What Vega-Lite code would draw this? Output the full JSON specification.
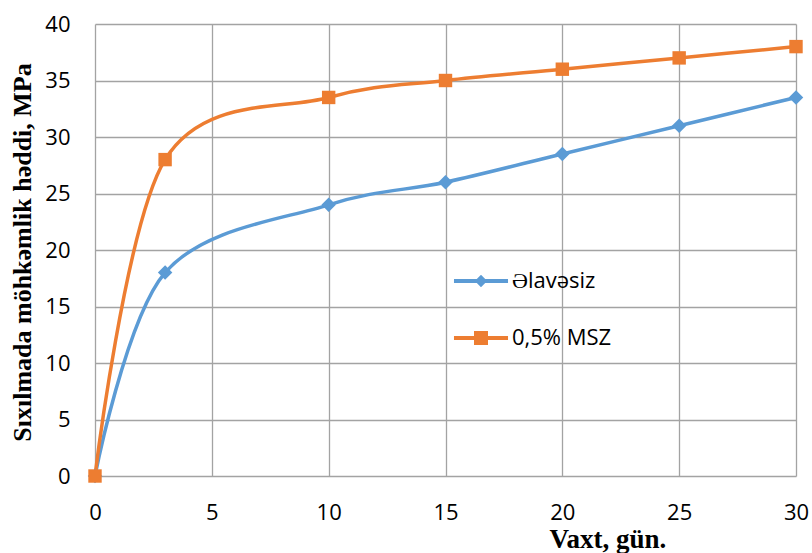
{
  "$schema": "https://vega.github.io/schema/vega-lite/v6.json",
  "autosize": {"type": "none"},
  "width": 701,
  "height": 452,
  "padding": {"left": 95, "top": 24, "right": 16, "bottom": 77},
  "background": "white",
  "config": {
    "view": {"stroke": null},
    "axis": {
      "grid": true,
      "gridColor": "#A3A3A3",
      "gridWidth": 1.3,
      "domain": false,
      "ticks": false,
      "labelFont": "Open Sans",
      "labelFontSize": 22,
      "labelColor": "#000000",
      "labelFlush": false,
      "labelOverlap": false,
      "titleFont": "Liberation Serif",
      "titleFontWeight": "bold",
      "titleFontSize": 26,
      "titleColor": "#000000"
    }
  },
  "data": {
    "values": [
      {"t": 0, "v": 0, "s": "Əlavəsiz"},
      {"t": 3, "v": 18, "s": "Əlavəsiz"},
      {"t": 10, "v": 24, "s": "Əlavəsiz"},
      {"t": 15, "v": 26, "s": "Əlavəsiz"},
      {"t": 20, "v": 28.5, "s": "Əlavəsiz"},
      {"t": 25, "v": 31, "s": "Əlavəsiz"},
      {"t": 30, "v": 33.5, "s": "Əlavəsiz"},
      {"t": 0, "v": 0, "s": "0,5% MSZ"},
      {"t": 3, "v": 28, "s": "0,5% MSZ"},
      {"t": 10, "v": 33.5, "s": "0,5% MSZ"},
      {"t": 15, "v": 35, "s": "0,5% MSZ"},
      {"t": 20, "v": 36, "s": "0,5% MSZ"},
      {"t": 25, "v": 37, "s": "0,5% MSZ"},
      {"t": 30, "v": 38, "s": "0,5% MSZ"}
    ]
  },
  "encoding": {
    "x": {
      "field": "t",
      "type": "quantitative",
      "scale": {"domain": [0, 30], "nice": false},
      "axis": {
        "values": [0, 5, 10, 15, 20, 25, 30],
        "labelPadding": 26,
        "title": "Vaxt, gün.",
        "titleX": 454,
        "titleY": 71,
        "titleFontSize": 27,
        "titleAlign": "left",
        "titleBaseline": "alphabetic"
      }
    },
    "y": {
      "field": "v",
      "type": "quantitative",
      "scale": {"domain": [0, 40], "nice": false},
      "axis": {
        "values": [0, 5, 10, 15, 20, 25, 30, 35, 40],
        "labelPadding": 25,
        "title": "Sıxılmada möhkəmlik həddi, MPa",
        "titleX": -65,
        "titleY": 228,
        "titleAlign": "center",
        "titleBaseline": "alphabetic",
        "titleAngle": 270
      }
    },
    "color": {
      "field": "s",
      "type": "nominal",
      "scale": {"domain": ["Əlavəsiz", "0,5% MSZ"], "range": ["#5B9BD5", "#ED7D31"]},
      "legend": {
        "title": null,
        "orient": "none",
        "legendX": 375,
        "legendY": 246,
        "padding": 0,
        "symbolSize": 196,
        "labelFont": "Open Sans",
        "labelFontSize": 22,
        "labelColor": "#000000",
        "labelOffset": 20,
        "rowPadding": 35,
        "values": ["Əlavəsiz", "0,5% MSZ"],
        "encode": {
          "symbols": {
            "update": {
              "shape": {"signal": "datum.value === 'Əlavəsiz' ? 'M-3.86,-0.28H3.86V0.28H-3.86Z M0,-0.88L0.88,0L0,0.88L-0.88,0Z' : 'M-3.86,-0.28H3.86V0.28H-3.86Z M-1,-1H1V1H-1Z'"},
              "strokeWidth": {"value": 0},
              "opacity": {"value": 1}
            }
          }
        }
      }
    }
  },
  "layer": [
    {
      "mark": {"type": "line", "interpolate": "cardinal", "tension": 0, "strokeWidth": 3.5},
      "encoding": {"detail": {"field": "s"}}
    },
    {
      "transform": [{"filter": "datum.s === 'Əlavəsiz'"}],
      "mark": {"type": "point", "shape": "diamond", "filled": true, "opacity": 1, "size": 210}
    },
    {
      "transform": [{"filter": "datum.s === '0,5% MSZ'"}],
      "mark": {"type": "point", "shape": "square", "filled": true, "opacity": 1, "size": 180}
    }
  ]
}
